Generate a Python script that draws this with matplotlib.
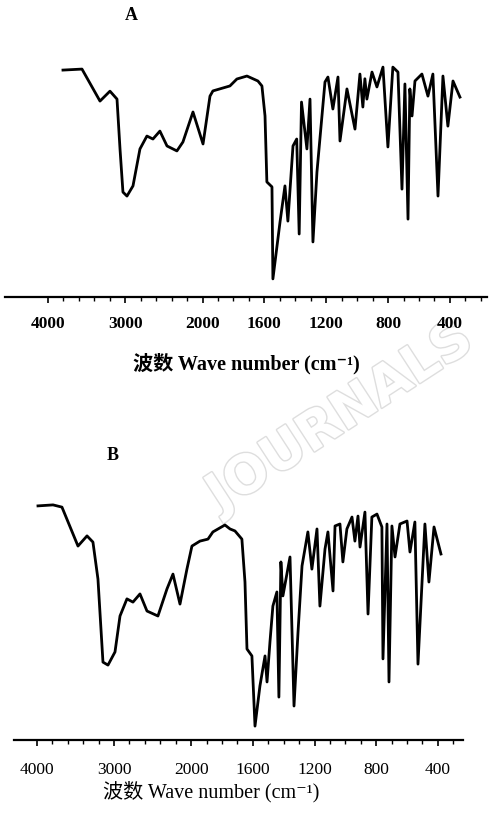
import numpy as np
import matplotlib
matplotlib.use("Agg")
from matplotlib import pyplot as plt
from matplotlib.ticker import FixedLocator
import matplotlib.patheffects as pe

plt.rcParams['font.family'] = ['Liberation Serif', 'Noto Sans CJK SC', 'DejaVu Sans']

# spectrum A: wavenumber (cm-1) and transmittance (%)
wn_a = [3806, 3560, 3327, 3198, 3107, 3068, 3030, 2978, 2900, 2810, 2720, 2642, 2552,
        2460, 2332, 2254, 2124, 1997, 1952, 1933, 1823, 1778, 1713, 1642, 1616, 1596,
        1584, 1551, 1545, 1499, 1467, 1448, 1415, 1391, 1375, 1360, 1325, 1305, 1286,
        1260, 1208, 1189, 1157, 1124, 1111, 1066, 1014, 982, 963, 950, 937, 904, 872,
        833, 801, 769, 736, 710, 691, 671, 659, 645, 626, 581, 542, 510, 477, 445, 413,
        380, 335]
t_a = [91.5, 91.9, 79.0, 83.0, 79.8, 59.7, 42.3, 40.7, 44.8, 59.7, 64.9, 63.7, 66.9,
       60.9, 58.9, 62.5, 74.6, 61.7, 81.0, 83.1, 85.1, 87.9, 89.1, 87.1, 85.1, 73.0,
       46.4, 44.4, 7.3, 30.2, 44.8, 30.6, 60.9, 63.7, 25.4, 78.6, 59.7, 79.8, 22.2,
       50.4, 86.7, 88.7, 75.8, 88.7, 62.9, 83.9, 67.7, 89.9, 76.6, 88.0, 79.8, 90.7, 84.7,
       92.7, 60.5, 92.7, 90.7, 43.5, 85.9, 31.4, 83.9, 73.0, 87.1, 89.9, 81.0, 89.9, 40.7,
       89.1, 68.9, 87.1, 80.6]

# spectrum B
wn_b = [3987, 3792, 3676, 3468, 3351, 3274, 3209, 3144, 3079, 2988, 2923, 2833, 2755,
        2664, 2573, 2431, 2314, 2236, 2145, 2055, 1995, 1943, 1891, 1859, 1781, 1748,
        1716, 1671, 1651, 1638, 1606, 1586, 1554, 1521, 1508, 1489, 1470, 1444, 1431,
        1418, 1405, 1359, 1333, 1307, 1281, 1243, 1217, 1184, 1165, 1132, 1113, 1080,
        1067, 1035, 1016, 990, 957, 938, 918, 905, 873, 853, 828, 795, 763, 756, 730,
        717, 698, 678, 646, 600, 581, 549, 529, 484, 458, 425, 380]
t_b = [94.4, 94.8, 93.9, 78.2, 82.3, 79.8, 64.9, 31.4, 30.2, 35.5, 50.0, 56.9, 55.6,
       58.9, 52.0, 50.0, 60.9, 66.9, 54.8, 68.9, 78.2, 80.2, 81.0, 83.9, 86.7, 85.1,
       84.3, 81.0, 63.7, 36.7, 33.9, 5.6, 21.8, 33.9, 23.4, 39.5, 54.0, 59.7, 17.3,
       71.8, 58.1, 73.8, 13.7, 43.5, 70.2, 83.9, 68.9, 85.1, 54.0, 77.0, 83.9, 60.1,
       86.3, 87.1, 71.8, 85.1, 89.9, 80.2, 90.3, 77.8, 91.9, 50.8, 89.9, 91.1, 85.9, 32.7,
       87.1, 23.4, 86.3, 73.8, 87.1, 88.3, 75.8, 87.9, 30.6, 87.1, 63.7, 85.9, 75.0]

major_ticks = [4000, 3000, 2000, 1600, 1200, 800, 400]
tick_labels = ["4000", "3000", "2000", "1600", "1200", "800", "400"]
minor_ticks = list(range(3800, 2000, -200)) + list(range(1900, 100, -100))
xlabel = "波数 Wave number (cm⁻¹)"


def fwd(w):
    w = np.asarray(w, dtype=float)
    return np.where(w > 2000, 2000 + (w - 2000) / 2.0, w)


def inv(f):
    f = np.asarray(f, dtype=float)
    return np.where(f > 2000, 2000 + (f - 2000) * 2.0, f)


W, H = 493, 820


def box(l, t, r, b):
    return [l / W, 1 - b / H, (r - l) / W, (b - t) / H]


def spectrum(ax, wn, t, xlim, pad, weight):
    ax.plot(wn, t, color="black", lw=2.0, solid_joinstyle="round")
    ax.set_xscale("function", functions=(fwd, inv))
    ax.set_xlim(*xlim)
    ax.set_ylim(0, 100)
    for s in ["top", "left", "right"]:
        ax.spines[s].set_visible(False)
    ax.spines["bottom"].set_linewidth(1.6)
    ax.set_yticks([])
    ax.xaxis.set_major_locator(FixedLocator(major_ticks))
    ax.xaxis.set_minor_locator(FixedLocator([m for m in minor_ticks if m not in major_ticks]))
    ax.set_xticklabels(tick_labels, fontsize=12.5, fontweight=weight)
    ax.tick_params(axis="x", which="major", direction="out", length=4, width=1.2, pad=pad)
    ax.tick_params(axis="x", which="minor", direction="out", length=3, width=1.0)
    ax.set_facecolor("none")


fig = plt.figure(figsize=(4.93, 8.2), dpi=100)

# faint watermark, behind everything
fig.text(340 / W, 1 - 418 / H, "JOURNALS", ha="center", va="center", fontsize=38,
         rotation=33, color="white", family="DejaVu Sans", fontweight="bold", zorder=-5,
         path_effects=[pe.withStroke(linewidth=2, foreground="#dedede")])

axA = fig.add_axes(box(5, 50, 487, 298))
spectrum(axA, wn_a, t_a, (4556, 160), 9, "bold")
axB = fig.add_axes(box(14, 493, 463, 741))
spectrum(axB, wn_b, t_b, (4298, 237), 11, "normal")

fig.text(131 / W, 1 - 15 / H, "A", ha="center", va="center", fontsize=13, fontweight="bold")
fig.text(113 / W, 1 - 455 / H, "B", ha="center", va="center", fontsize=13, fontweight="bold")
fig.text(246 / W, 1 - 364 / H, xlabel, ha="center", va="center", fontsize=14.5, fontweight="bold")
fig.text(211 / W, 1 - 792 / H, xlabel, ha="center", va="center", fontsize=14.5)

fig.savefig("out.png", dpi=100)
